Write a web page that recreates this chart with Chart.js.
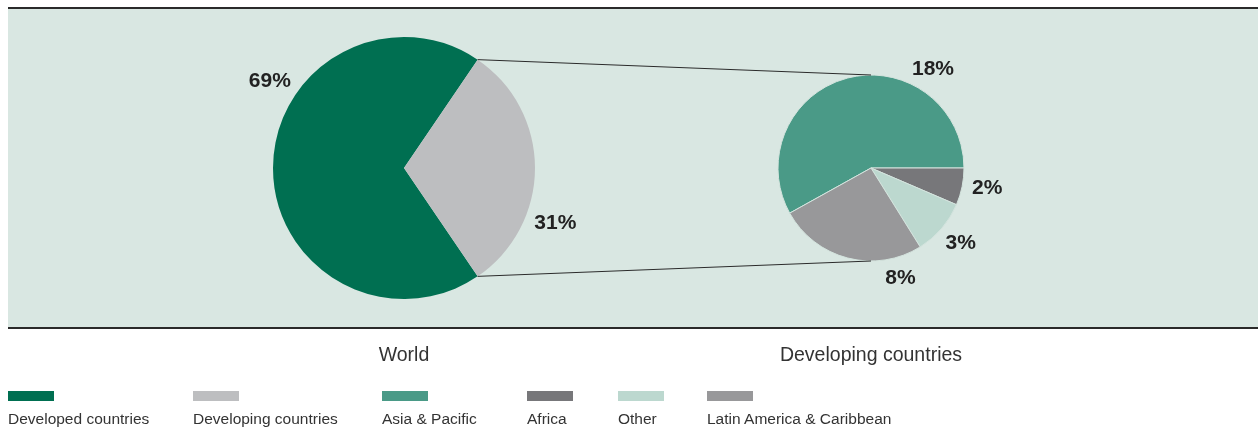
<!DOCTYPE html>
<html>
<head>
<meta charset="utf-8">
<script src="https://cdn.jsdelivr.net/npm/chart.js@4"></script>
<style>
  html, body { margin: 0; padding: 0; background: #fff; width: 1258px; height: 428px; overflow: hidden; }
  body { position: relative; font-family: "Liberation Sans", Arial, Helvetica, sans-serif; }
  #panel { position: absolute; left: 8px; top: 7px; width: 1250px; height: 318px;
           background: #d9e7e2; border-top: 2px solid #2a2a2a; border-bottom: 2px solid #2a2a2a; }
  canvas.pie { position: absolute; }
  #overlay { position: absolute; left: 0; top: 0; pointer-events: none; }
  .title { position: absolute; top: 343px; font-size: 19.5px; color: #333; transform: translateX(-50%); white-space: nowrap; }
  .leg { position: absolute; top: 391px; }
  .leg .sw { width: 46px; height: 10px; }
  .leg .lb { margin-top: 9px; font-size: 15.5px; color: #333; white-space: nowrap; }
</style>
</head>
<body>
<div id="panel"></div>
<canvas id="worldPie" class="pie" width="300" height="300" style="left:254px;top:18px"></canvas>
<canvas id="devPie" class="pie" width="220" height="220" style="left:761px;top:58px"></canvas>
<canvas id="overlay" width="1258" height="428"></canvas>
<div class="title" style="left:404px">World</div>
<div class="title" style="left:871px">Developing countries</div>
<div id="legend"></div>
<script>
// ---- data ----
const worldCategories = ["Developed countries", "Developing countries"];
const worldValues = [69, 31];
const devCategories = ["Asia & Pacific", "Africa", "Other", "Latin America & Caribbean"];
const devValues = [18, 2, 3, 8];
const worldLabels = ["69%", "31%"];
const devLabels = ["18%", "2%", "3%", "8%"];
const chartTitles = ["World", "Developing countries"];

// ---- styles ----
const worldColors = ["#006f51", "#bdbec0"];
const devColors = ["#4a9a87", "#77777a", "#bcd8cf", "#98989a"];
// label placement: angle (deg, clockwise from top) and distance beyond outer radius
const worldLabelPos = [{a: 303, d: 29}, {a: 110, d: 30}];
const devLabelPos = [{a: 32, d: 24}, {a: 100, d: 25}, {a: 130, d: 24}, {a: 165, d: 21}];
const legendX = [8, 193, 382, 527, 618, 707];

function sum(a) { return a.reduce((s, v) => s + v, 0); }
// center the developing slice at 3 o'clock
const worldRotation = 90 - 360 * (worldValues[0] + worldValues[1] / 2) / sum(worldValues);
// Asia slice ends at 3 o'clock
const devRotation = 90 - 360 * devValues[0] / sum(devValues);

function pieConfig(labels, values, colors, rotation, radius, bw, bc) {
  return {
    type: 'pie',
    data: { labels: labels, datasets: [{ data: values, backgroundColor: colors, borderWidth: bw, borderColor: bc }] },
    options: {
      responsive: false, animation: false, rotation: rotation, radius: radius,
      layout: { padding: 0 },
      plugins: { legend: { display: false }, tooltip: { enabled: false } }
    }
  };
}

const worldChart = new Chart(document.getElementById('worldPie'),
  pieConfig(worldCategories, worldValues, worldColors, worldRotation, 131, 0, '#d9e7e2'));
const devChart = new Chart(document.getElementById('devPie'),
  pieConfig(devCategories, devValues, devColors, devRotation, 93, 1, '#d3e3dd'));

// ---- overlay: connectors and value labels ----
function offsetOf(chart) {
  const c = chart.canvas;
  return { x: c.offsetLeft, y: c.offsetTop };
}
function drawOverlay() {
  const ctx = document.getElementById('overlay').getContext('2d');
  const wo = offsetOf(worldChart), dO = offsetOf(devChart);
  const wArc = worldChart.getDatasetMeta(0).data[1];
  const dArc = devChart.getDatasetMeta(0).data[0];
  const wr = wArc.outerRadius, wx = wArc.x + wo.x, wy = wArc.y + wo.y;
  const dr = dArc.outerRadius, dx = dArc.x + dO.x, dy = dArc.y + dO.y;
  const p1 = { x: wx + wr * Math.cos(wArc.startAngle), y: wy + wr * Math.sin(wArc.startAngle) };
  const p2 = { x: wx + wr * Math.cos(wArc.endAngle), y: wy + wr * Math.sin(wArc.endAngle) };
  ctx.strokeStyle = '#2b2b2b';
  ctx.lineWidth = 1;
  ctx.beginPath();
  ctx.moveTo(p1.x, p1.y); ctx.lineTo(dx, dy - dr);
  ctx.moveTo(p2.x, p2.y); ctx.lineTo(dx, dy + dr);
  ctx.stroke();

  ctx.fillStyle = '#222';
  ctx.font = 'bold 21px "Liberation Sans", Arial, sans-serif';
  ctx.textAlign = 'center';
  ctx.textBaseline = 'middle';
  function lab(text, cx, cy, r, pos) {
    const ang = pos.a * Math.PI / 180;
    const rr = r + pos.d;
    ctx.fillText(text, cx + rr * Math.sin(ang), cy - rr * Math.cos(ang));
  }
  worldLabels.forEach((t, i) => lab(t, wx, wy, wr, worldLabelPos[i]));
  devLabels.forEach((t, i) => lab(t, dx, dy, dr, devLabelPos[i]));
}
drawOverlay();

// ---- legend ----
const legendNames = worldCategories.concat(devCategories);
const legendColors = worldColors.concat(devColors);
const legend = document.getElementById('legend');
legendNames.forEach((n, i) => {
  const d = document.createElement('div');
  d.className = 'leg';
  d.style.left = legendX[i] + 'px';
  d.innerHTML = '<div class="sw" style="background:' + legendColors[i] + '"></div><div class="lb"></div>';
  d.querySelector('.lb').textContent = n;
  legend.appendChild(d);
});
</script>
</body>
</html>
